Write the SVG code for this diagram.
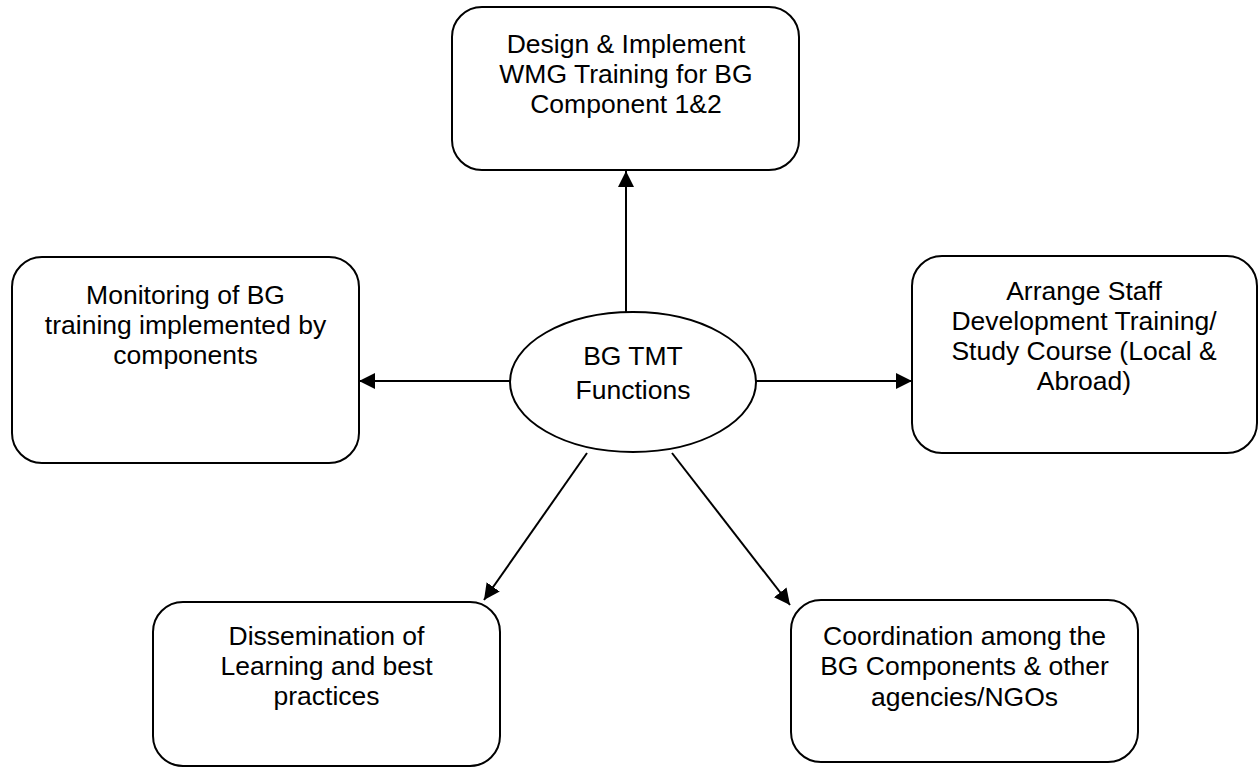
<svg xmlns="http://www.w3.org/2000/svg" width="1259" height="767" viewBox="0 0 1259 767">
<style>
.box{fill:#fff;stroke:#000;stroke-width:2}
.lbl{font-family:"Liberation Sans",Arial,sans-serif;font-size:26.5px;fill:#000;text-anchor:middle}
.edge{stroke:#000;stroke-width:2;fill:none;marker-end:url(#ah)}
</style>
<defs>
<marker id="ah" markerUnits="userSpaceOnUse" markerWidth="16" markerHeight="16" viewBox="0 0 14 14" refX="14" refY="7" orient="auto">
<path d="M0,0 L14,7 L0,14 Z" fill="#000"/>
</marker>
</defs>
<rect width="1259" height="767" fill="#fff"/>
<g id="connectors">
<line class="edge" x1="626" y1="312" x2="626" y2="171"/>
<line class="edge" x1="510" y1="381" x2="359" y2="381"/>
<line class="edge" x1="756" y1="381" x2="912" y2="381"/>
<line class="edge" x1="587" y1="453" x2="484" y2="600"/>
<line class="edge" x1="672" y1="453" x2="790" y2="605"/>
</g>
<g id="center">
<ellipse cx="633" cy="382" rx="123" ry="70" class="box"/>
<text class="lbl" x="633" y="365">BG TMT</text>
<text class="lbl" x="633" y="399">Functions</text>
</g>
<g id="design">
<rect class="box" x="452" y="7" width="347" height="163" rx="30"/>
<text class="lbl" x="626" y="53">Design &amp; Implement</text>
<text class="lbl" x="626" y="83">WMG Training for BG</text>
<text class="lbl" x="626" y="113">Component 1&amp;2</text>
</g>
<g id="monitoring">
<rect class="box" x="12" y="257" width="347" height="206" rx="30"/>
<text class="lbl" x="185.5" y="304">Monitoring of BG</text>
<text class="lbl" x="185.5" y="334">training implemented by</text>
<text class="lbl" x="185.5" y="364">components</text>
</g>
<g id="arrange">
<rect class="box" x="912" y="256" width="345" height="197" rx="30"/>
<text class="lbl" x="1084" y="300">Arrange Staff</text>
<text class="lbl" x="1084" y="330">Development Training/</text>
<text class="lbl" x="1084" y="360">Study Course (Local &amp;</text>
<text class="lbl" x="1084" y="390">Abroad)</text>
</g>
<g id="dissemination">
<rect class="box" x="153" y="602" width="347" height="164" rx="30"/>
<text class="lbl" x="326.5" y="645">Dissemination of</text>
<text class="lbl" x="326.5" y="675">Learning and best</text>
<text class="lbl" x="326.5" y="705">practices</text>
</g>
<g id="coordination">
<rect class="box" x="791" y="600" width="347" height="162" rx="30"/>
<text class="lbl" x="964.5" y="645">Coordination among the</text>
<text class="lbl" x="964.5" y="675">BG Components &amp; other</text>
<text class="lbl" x="964.5" y="706">agencies/NGOs</text>
</g>
</svg>
